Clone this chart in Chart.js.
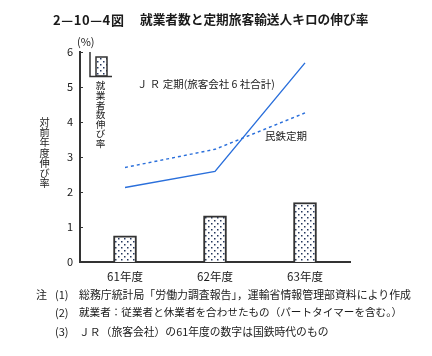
<!DOCTYPE html>
<html><head><meta charset="utf-8">
<script src="https://cdn.jsdelivr.net/npm/chart.js@4"></script>
<style>
html,body{margin:0;padding:0;background:#fff;}
#wrap{position:relative;width:432px;height:356px;overflow:hidden;font-family:"Noto Sans CJK JP","Noto Sans",sans-serif;color:#1a1a1a;}
#c{position:absolute;left:0;top:0;}
.t{position:absolute;white-space:nowrap;line-height:1;}
.v{writing-mode:vertical-rl;text-orientation:upright;}
</style></head>
<body><div id="wrap">
<canvas id="c" width="432" height="356"></canvas>
<div class="t" style="left:53px;top:13px;font-size:13px;font-weight:700;letter-spacing:0.6px;">2—10—4図</div>
<div class="t" style="left:140px;top:13px;font-size:12.7px;font-weight:700;">就業者数と定期旅客輸送人キロの伸び率</div>
<div class="t" style="left:77px;top:36px;font-size:11px;">(%)</div>
<div class="t v" style="left:39px;top:117px;font-size:10.2px;">対前年度伸び率</div>
<div class="t v" style="left:95px;top:81px;font-size:9.6px;">就業者数伸び率</div>
<div class="t" style="left:137px;top:79px;font-size:10.5px;">Ｊ Ｒ 定期(旅客会社 6 社合計)</div>
<div class="t" style="left:265px;top:131px;font-size:10.5px;">民鉄定期</div>
<div class="t" style="left:36px;top:289px;font-size:11px;">注</div>
<div class="t" style="left:55px;top:289px;font-size:11px;">(1)</div>
<div class="t" style="left:79px;top:289px;font-size:10.9px;">総務庁統計局「労働力調査報告」，運輸省情報管理部資料により作成</div>
<div class="t" style="left:55px;top:307px;font-size:11px;">(2)</div>
<div class="t" style="left:79px;top:307px;font-size:10.6px;">就業者：従業者と休業者を合わせたもの（パートタイマーを含む。）</div>
<div class="t" style="left:55px;top:326px;font-size:11px;">(3)</div>
<div class="t" style="left:79px;top:326px;font-size:10.8px;">ＪＲ（旅客会社）の61年度の数字は国鉄時代のもの</div>
</div>
<script>
const categories = ['61年度', '62年度', '63年度'];
const employedGrowth = [0.75, 1.32, 1.70];
const jrCommuter = [2.13, 2.59, 5.69];
const privateCommuter = [2.70, 3.22, 4.26];
const yTicks = [0, 1, 2, 3, 4, 5, 6];

function makePattern(ctx) {
  const p = document.createElement('canvas');
  p.width = 6; p.height = 6;
  const g = p.getContext('2d');
  g.fillStyle = '#ffffff'; g.fillRect(0, 0, 6, 6);
  g.fillStyle = '#24365c';
  g.fillRect(1, 1, 1.5, 1.5);
  g.fillRect(4, 4, 1.5, 1.5);
  return ctx.createPattern(p, 'repeat');
}
const cv = document.getElementById('c');
const ctx0 = cv.getContext('2d');
const dots = makePattern(ctx0);

const extras = {
  id: 'extras',
  afterDraw(chart) {
    const ctx = chart.ctx;
    const y = chart.scales.y;
    ctx.save();
    ctx.strokeStyle = '#333'; ctx.lineWidth = 1;
    yTicks.forEach(v => {
      const py = Math.round(y.getPixelForValue(v)) + 0.5;
      ctx.beginPath(); ctx.moveTo(y.right, py); ctx.lineTo(y.right + 3, py); ctx.stroke();
    });
    // legend symbol
    ctx.fillStyle = dots;
    ctx.fillRect(96, 57, 11, 19);
    ctx.strokeStyle = '#333'; ctx.lineWidth = 1.5;
    ctx.strokeRect(96, 57, 11, 19);
    ctx.beginPath(); ctx.moveTo(90, 52); ctx.lineTo(90, 76.5); ctx.lineTo(112, 76.5); ctx.stroke();
    ctx.restore();
  }
};

new Chart(cv, {
  type: 'bar',
  data: {
    labels: categories,
    datasets: [
      { type: 'line', data: jrCommuter, borderColor: '#2a6fdb', borderWidth: 1.4, pointRadius: 0, tension: 0, fill: false, order: 0 },
      { type: 'line', data: privateCommuter, borderColor: '#2a6fdb', borderWidth: 1.4, borderDash: [3, 3], pointRadius: 0, tension: 0, fill: false, order: 0 },
      { type: 'bar', data: employedGrowth, backgroundColor: dots, borderColor: '#333', borderWidth: 2, borderSkipped: 'bottom', barThickness: 23, order: 1 }
    ]
  },
  options: {
    responsive: false, animation: false, devicePixelRatio: 1,
    layout: { padding: { left: 50, right: 82, top: 52, bottom: 64 } },
    plugins: { legend: { display: false }, tooltip: { enabled: false }, title: { display: false } },
    scales: {
      x: {
        type: 'category', offset: true,
        grid: { display: false },
        border: { display: true, color: '#333', width: 2 },
        ticks: { color: '#1a1a1a', padding: 0, font: { family: '"Noto Sans CJK JP"', size: 11.5 } },
        afterFit(s) { s.height = 30; }
      },
      y: {
        min: 0, max: 6,
        afterBuildTicks(s) { s.ticks = yTicks.map(v => ({ value: v })); },
        grid: { display: false, drawTicks: false },
        border: { display: true, color: '#333', width: 2 },
        ticks: { color: '#1a1a1a', padding: 7, font: { family: '"Noto Sans CJK JP"', size: 11 } },
        afterFit(s) { s.width = 30; }
      }
    }
  },
  plugins: [extras]
});
</script>
</body></html>
